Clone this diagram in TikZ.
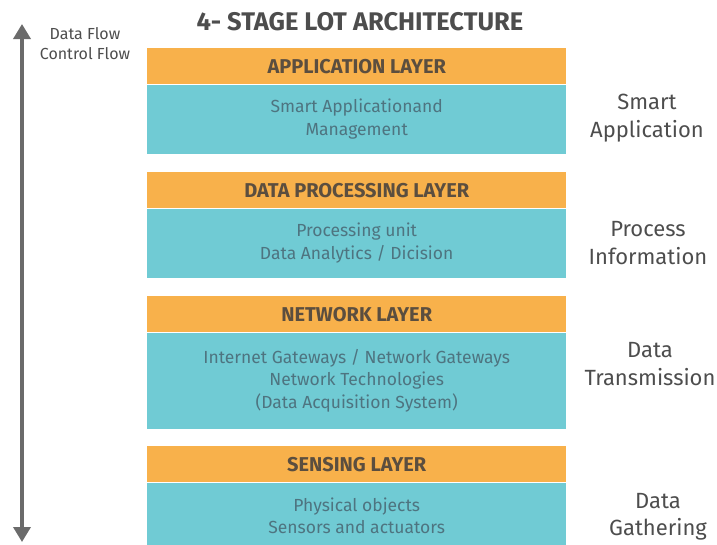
\documentclass[tikz,border=0pt]{standalone}
\usepackage{fontspec}
\setmainfont{Fira Sans}
\usetikzlibrary{arrows.meta, positioning}
\definecolor{layerorange}{HTML}{F8B14B}
\definecolor{layerteal}{HTML}{70CBD4}
\definecolor{headtext}{HTML}{5B4E3F}
\definecolor{bodytext}{HTML}{4E7480}
\definecolor{sidetext}{HTML}{4D4D4D}
\definecolor{flowgray}{HTML}{6B6B6B}
\tikzset{
    layerhead/.style={fill=layerorange, text=headtext, minimum width=419pt, minimum height=36pt,
        inner sep=0pt, font=\fontsize{20}{22}\selectfont\bfseries},
    layerbody/.style={fill=layerteal, text=bodytext, minimum width=419pt, inner sep=0pt,
        align=center, font=\fontsize{17.5}{22.5}\selectfont},
    sidelabel/.style={text=sidetext, align=center, font=\fontsize{22}{27.5}\selectfont},
}

\begin{document}
\begin{tikzpicture}[x=1pt, y=-1pt]
            \useasboundingbox (0,0) rectangle (717,544);

            \node[text=sidetext, font=\fontsize{25.5}{28}\selectfont\bfseries] (title) at (360,22) {4- STAGE LOT ARCHITECTURE};
            \node[text=sidetext, align=center, font=\fontsize{16}{20}\selectfont] (flowtext) at (85,44) {Data Flow\\Control Flow};

            \coordinate (flowtop) at (22,24);
            \coordinate (flowbottom) at (22,542);
            \draw[flowgray, line width=3.5pt, {Triangle[width=17pt,length=15pt]}-{Triangle[width=17pt,length=15pt]}] (flowtop) -- (flowbottom);

            \node[layerhead, anchor=north west] (apphead) at (147,48) {APPLICATION LAYER};
            \node[layerbody, minimum height=69pt, below=0pt of apphead] (appbody) {Smart Applicationand\\Management};

            \node[layerhead, anchor=north west] (prochead) at (147,172) {DATA PROCESSING LAYER};
            \node[layerbody, minimum height=69pt, below=0pt of prochead] (procbody) {Processing unit\\Data Analytics / Dicision};

            \node[layerhead, anchor=north west] (nethead) at (147,296) {NETWORK LAYER};
            \node[layerbody, minimum height=96pt, below=0pt of nethead] (netbody) {Internet Gateways / Network Gateways\\Network Technologies\\(Data Acquisition System)};

            \node[layerhead, anchor=north west] (senshead) at (147,446) {SENSING LAYER};
            \node[layerbody, minimum height=66pt, below=0pt of senshead] (sensbody) {Physical objects\\Sensors and actuators};

            \node[sidelabel] (appside) at (647,118) {Smart\\Application};
            \node[sidelabel] (procside) at (648,243) {Process\\Information};
            \node[sidelabel] (netside) at (650,364) {Data\\Transmission};
            \node[sidelabel] (sensside) at (658,517) {Data\\Gathering};

        \end{tikzpicture}
\end{document}
